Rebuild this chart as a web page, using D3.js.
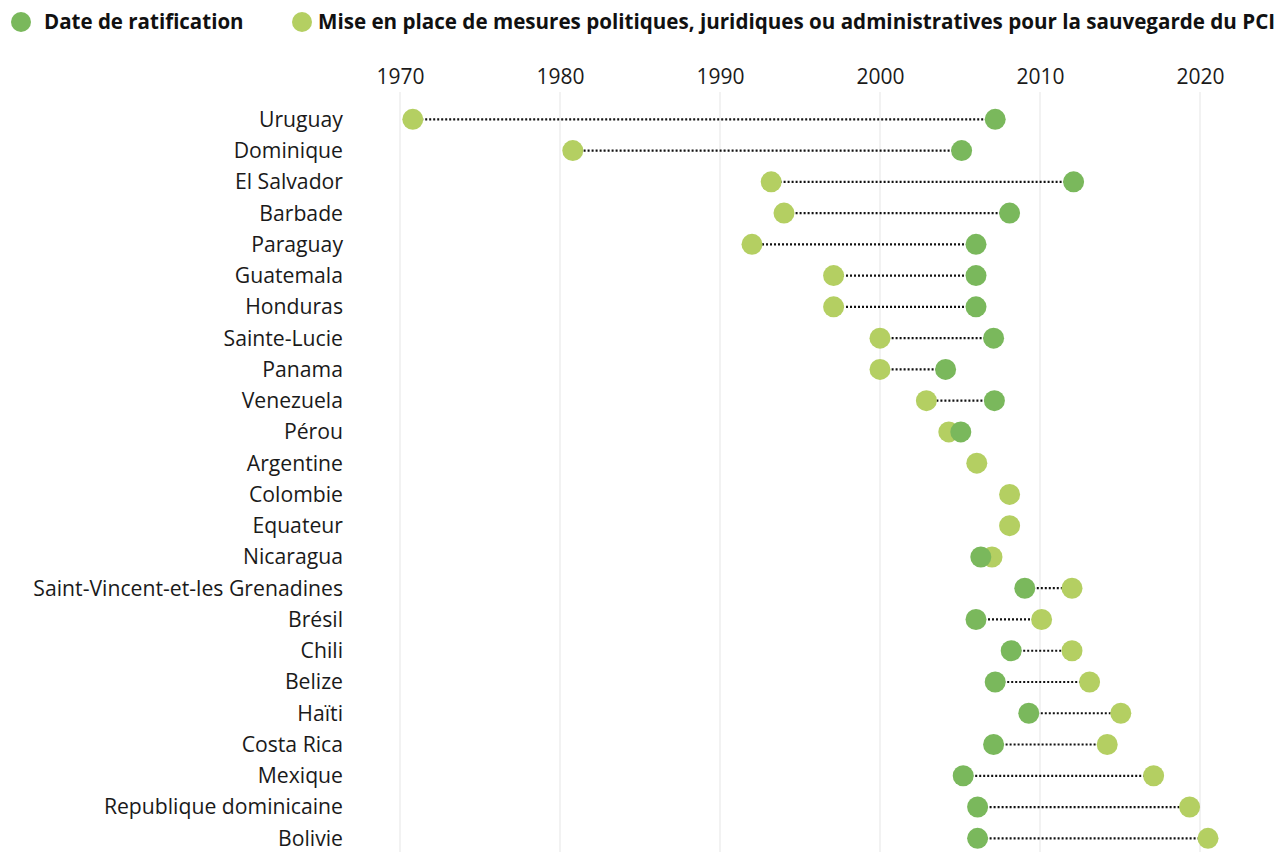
<!DOCTYPE html>
<html>
<head>
<meta charset="utf-8">
<script src="https://cdn.jsdelivr.net/npm/d3@7"></script>
<style>
  body { margin: 0; background: #fff; }
  svg { font-family: "Open Sans", sans-serif; }
</style>
</head>
<body>
<div id="chart"></div>
<script>
// Données
const pays = ["Uruguay", "Dominique", "El Salvador", "Barbade", "Paraguay", "Guatemala",
  "Honduras", "Sainte-Lucie", "Panama", "Venezuela", "Pérou", "Argentine", "Colombie",
  "Equateur", "Nicaragua", "Saint-Vincent-et-les Grenadines", "Brésil", "Chili", "Belize",
  "Haïti", "Costa Rica", "Mexique", "Republique dominicaine", "Bolivie"];
const ratification = [2007.2, 2005.1, 2012.1, 2008.1, 2006.0, 2006.0,
  2006.0, 2007.1, 2004.1, 2007.15, 2005.05, 2006.05, 2008.1,
  2008.1, 2006.3, 2009.05, 2006.0, 2008.2, 2007.2,
  2009.3, 2007.1, 2005.2, 2006.1, 2006.1];
const mesures = [1970.8, 1980.8, 1993.2, 1994.0, 1992.0, 1997.1,
  1997.1, 2000.0, 2000.0, 2002.9, 2004.3, 2006.05, 2008.1,
  2008.1, 2007.0, 2012.0, 2010.1, 2012.0, 2013.1,
  2015.05, 2014.2, 2017.1, 2019.35, 2020.5];
const ticks = [1970, 1980, 1990, 2000, 2010, 2020];
const legende = ["Date de ratification",
  "Mise en place de mesures politiques, juridiques ou administratives pour la sauvegarde du PCI"];

const couleurRatif = "#7ab85c";
const couleurMesure = "#b4cf62";

const data = pays.map((p, i) => ({ pays: p, ratif: ratification[i], mesure: mesures[i] }));

const width = 1281, height = 852;
const svg = d3.select("#chart").append("svg")
  .attr("width", width).attr("height", height);

// Échelles
const x = d3.scaleLinear().domain([1970, 2020]).range([400, 1200]);
const y = d3.scalePoint().domain(pays).range([119.3, 838.3]);

// Grille verticale
svg.append("g").selectAll("line")
  .data(ticks).join("line")
  .attr("x1", d => x(d)).attr("x2", d => x(d))
  .attr("y1", 92).attr("y2", height)
  .attr("stroke", "#e5e5e5").attr("stroke-width", 1);

// Axe du haut
const axe = svg.append("g")
  .attr("transform", "translate(0,84)")
  .call(d3.axisTop(x).tickValues(ticks).tickFormat(d3.format("d")).tickSize(0).tickPadding(0));
axe.select(".domain").remove();
axe.selectAll("text")
  .attr("font-family", "Open Sans, sans-serif")
  .attr("font-size", 21)
  .attr("fill", "#1a1a1a");

// Noms des pays
svg.append("g").selectAll("text")
  .data(data).join("text")
  .attr("x", 343)
  .attr("y", d => y(d.pays))
  .attr("dy", "0.35em")
  .attr("text-anchor", "end")
  .attr("font-size", 21.2)
  .attr("fill", "#1a1a1a")
  .text(d => d.pays);

// Lignes pointillées
svg.append("g").selectAll("line")
  .data(data.filter(d => d.ratif !== d.mesure)).join("line")
  .attr("x1", d => x(d.ratif)).attr("x2", d => x(d.mesure))
  .attr("y1", d => y(d.pays)).attr("y2", d => y(d.pays))
  .attr("stroke", "#111").attr("stroke-width", 2.2)
  .attr("stroke-dasharray", "2,2");

const r = 10.5;

// Points mesures (vert clair)
svg.append("g").selectAll("circle")
  .data(data).join("circle")
  .attr("cx", d => x(d.mesure)).attr("cy", d => y(d.pays))
  .attr("r", r).attr("fill", couleurMesure);

// Points ratification (vert foncé), cachés quand identiques
svg.append("g").selectAll("circle")
  .data(data.filter(d => d.ratif !== d.mesure)).join("circle")
  .attr("cx", d => x(d.ratif)).attr("cy", d => y(d.pays))
  .attr("r", r).attr("fill", couleurRatif);

// Légende
const leg = svg.append("g");
leg.append("circle").attr("cx", 21).attr("cy", 22).attr("r", 10).attr("fill", couleurRatif);
leg.append("text").attr("x", 44).attr("y", 22).attr("dy", "0.35em")
  .attr("font-size", 20.5).attr("font-weight", 700).attr("fill", "#111")
  .text(legende[0]);
leg.append("circle").attr("cx", 302).attr("cy", 22).attr("r", 10).attr("fill", couleurMesure);
leg.append("text").attr("x", 318).attr("y", 22).attr("dy", "0.35em")
  .attr("font-size", 20.6).attr("font-weight", 700).attr("fill", "#111")
  .text(legende[1]);
</script>
</body>
</html>
